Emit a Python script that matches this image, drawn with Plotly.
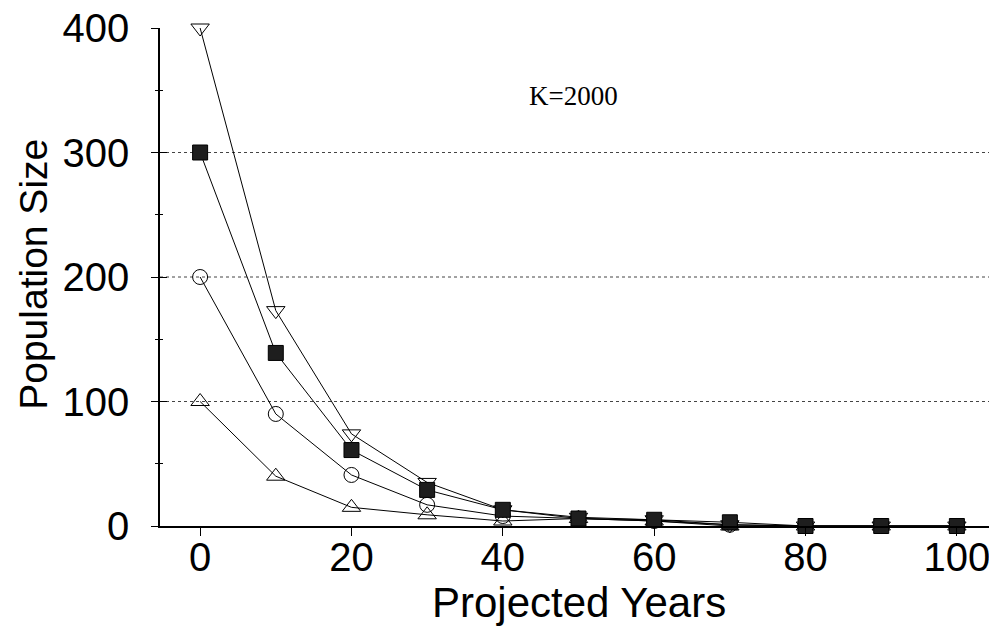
import plotly.graph_objects as go

years = [0, 10, 20, 30, 40, 50, 60, 70, 80, 90, 100]
n400 = [400, 173, 74, 35, 13, 7, 5, 1, 0, 0, 0]
n300 = [300, 139, 61, 29, 13, 6, 5, 3, 0, 0, 0]
n200 = [200, 90, 41, 17, 8, 6, 4, 1, 0, 0, 0]
n100 = [100, 40, 15, 9, 4, 6, 4, 0, 0, 0, 0]
grid_vals = [100, 200, 300]
x_ticks = [0, 20, 40, 60, 80, 100]
y_ticks = [0, 100, 200, 300, 400]

fig = go.Figure()
series = [
    (n100, dict(symbol="triangle-up-open", size=16, color="black", line=dict(width=1))),
    (n200, dict(symbol="circle-open", size=15, color="black", line=dict(width=1))),
    (n400, dict(symbol="triangle-down-open", size=16, color="black", line=dict(width=1))),
    (n300, dict(symbol="square", size=15, color="#1e1e1e", line=dict(width=1, color="black"))),
]
for ys, mk in series:
    fig.add_trace(go.Scatter(x=years, y=ys, mode="lines+markers",
                             line=dict(color="black", width=1), marker=mk,
                             showlegend=False, cliponaxis=False))

# invisible trace on the overlay y axis so its inward tick marks are drawn
fig.add_trace(go.Scatter(x=years, y=n300, xaxis="x", yaxis="y2", mode="markers",
                         marker=dict(opacity=0), showlegend=False, hoverinfo="skip"))

for g in grid_vals:
    fig.add_hline(y=g, line=dict(color="#444", width=1, dash="dot"), layer="below")

fig.add_annotation(text="K=2000", x=49.3, y=345, xref="x", yref="y", showarrow=False,
                   font=dict(family="Liberation Serif", size=27, color="black"))
fig.add_annotation(text="Projected Years", x=0.5, y=-0.154, xref="paper", yref="paper",
                   showarrow=False, xanchor="center", yanchor="middle",
                   font=dict(size=42, color="black"))
fig.add_annotation(text="Population Size", x=-0.152, y=0.506, xref="paper", yref="paper",
                   showarrow=False, xanchor="center", yanchor="middle", textangle=-90,
                   font=dict(size=39, color="black"))

axis_common = dict(showgrid=False, zeroline=False, automargin=False)
fig.update_layout(
    width=989, height=618,
    margin=dict(l=152, r=0, t=20, b=100),
    plot_bgcolor="white", paper_bgcolor="white",
    font=dict(family="Liberation Sans, Arial", color="black"),
    xaxis=dict(range=[-5.3, 105.3], tickvals=x_ticks, **axis_common,
               showline=True, linecolor="black", linewidth=1.5,
               ticks="outside", ticklen=8, tickwidth=1, tickcolor="black",
               tickfont=dict(size=40), ticklabelstandoff=-13, ticklabeloverflow="allow"),
    yaxis=dict(range=[0, 400], tickvals=y_ticks, **axis_common,
               showline=True, linecolor="black", linewidth=1.5,
               ticks="outside", ticklen=7, tickwidth=1, tickcolor="black",
               minor=dict(dtick=50, ticks="outside", ticklen=3, tickcolor="black"),
               tickfont=dict(size=40), ticklabelstandoff=14, ticklabeloverflow="allow"),
    yaxis2=dict(range=[0, 400], tickvals=y_ticks, overlaying="y", **axis_common,
                showline=False, showticklabels=False,
                ticks="inside", ticklen=7, tickwidth=1, tickcolor="black",
                minor=dict(dtick=50, ticks="inside", ticklen=3, tickcolor="black")),
)
fig.write_html("out.html")
